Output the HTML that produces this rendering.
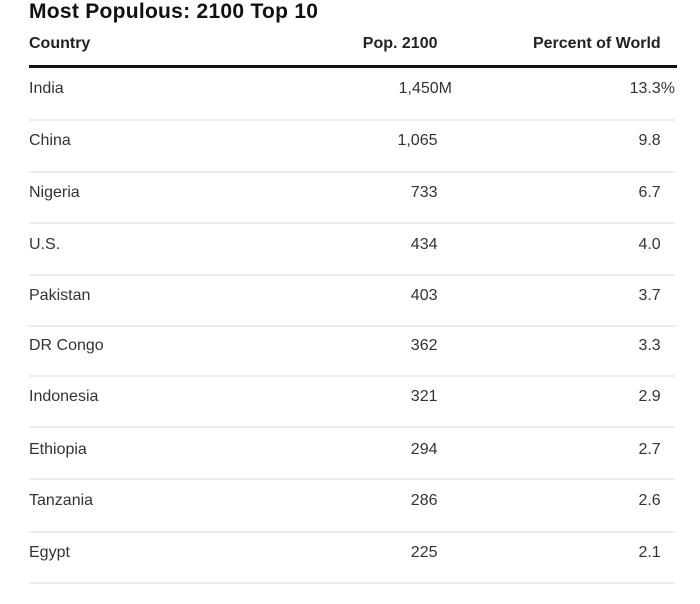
<!DOCTYPE html>
<html>
<head>
<meta charset="utf-8">
<style>
  html,body{margin:0;padding:0;background:#fff;}
  body{width:700px;height:604px;position:relative;overflow:hidden;font-family:"Liberation Sans",Arial,sans-serif;}
  .t{position:absolute;white-space:nowrap;}
  .title{left:29px;top:0.7px;font-size:21px;line-height:21px;font-weight:bold;color:#111;letter-spacing:0.28px;}
  .h{font-size:16px;line-height:16px;font-weight:bold;color:#222;top:36px;}
  .c{font-size:16px;line-height:16px;color:#333;}
  .sep{position:absolute;left:29px;width:646px;height:2px;background:#ececec;}
  .thick{position:absolute;left:29px;width:648px;top:65px;height:3px;background:#111;}
</style>
</head>
<body>
<div class="t title">Most Populous: 2100 Top 10</div>

<div class="t h" style="left:29px;">Country</div>
<div class="t h" style="right:262.5px;">Pop. 2100</div>
<div class="t h" style="right:39.3px;">Percent of World</div>
<div class="thick"></div>

<!-- India -->
<div class="t c" style="left:29px;top:81px;">India</div>
<div class="t c" style="right:248px;top:81px;">1,450M</div>
<div class="t c" style="right:25px;top:81px;">13.3%</div>
<div class="sep" style="top:118.5px;"></div>

<!-- China -->
<div class="t c" style="left:29px;top:133.2px;">China</div>
<div class="t c" style="right:262.5px;top:133.2px;">1,065</div>
<div class="t c" style="right:39.3px;top:133.2px;">9.8</div>
<div class="sep" style="top:170.5px;"></div>

<!-- Nigeria -->
<div class="t c" style="left:29px;top:184.8px;">Nigeria</div>
<div class="t c" style="right:262.5px;top:184.8px;">733</div>
<div class="t c" style="right:39.3px;top:184.8px;">6.7</div>
<div class="sep" style="top:222px;"></div>

<!-- U.S. -->
<div class="t c" style="left:29px;top:236.5px;">U.S.</div>
<div class="t c" style="right:262.5px;top:236.5px;">434</div>
<div class="t c" style="right:39.3px;top:236.5px;">4.0</div>
<div class="sep" style="top:274px;"></div>

<!-- Pakistan -->
<div class="t c" style="left:29px;top:288.2px;">Pakistan</div>
<div class="t c" style="right:262.5px;top:288.2px;">403</div>
<div class="t c" style="right:39.3px;top:288.2px;">3.7</div>
<div class="sep" style="top:325px;"></div>

<!-- DR Congo -->
<div class="t c" style="left:29px;top:338.2px;">DR Congo</div>
<div class="t c" style="right:262.5px;top:338.2px;">362</div>
<div class="t c" style="right:39.3px;top:338.2px;">3.3</div>
<div class="sep" style="top:375px;"></div>

<!-- Indonesia -->
<div class="t c" style="left:29px;top:389.2px;">Indonesia</div>
<div class="t c" style="right:262.5px;top:389.2px;">321</div>
<div class="t c" style="right:39.3px;top:389.2px;">2.9</div>
<div class="sep" style="top:426px;"></div>

<!-- Ethiopia -->
<div class="t c" style="left:29px;top:441.5px;">Ethiopia</div>
<div class="t c" style="right:262.5px;top:441.5px;">294</div>
<div class="t c" style="right:39.3px;top:441.5px;">2.7</div>
<div class="sep" style="top:478px;"></div>

<!-- Tanzania -->
<div class="t c" style="left:29px;top:493.2px;">Tanzania</div>
<div class="t c" style="right:262.5px;top:493.2px;">286</div>
<div class="t c" style="right:39.3px;top:493.2px;">2.6</div>
<div class="sep" style="top:530.5px;"></div>

<!-- Egypt -->
<div class="t c" style="left:29px;top:544.5px;">Egypt</div>
<div class="t c" style="right:262.5px;top:544.5px;">225</div>
<div class="t c" style="right:39.3px;top:544.5px;">2.1</div>
<div class="sep" style="top:582px;"></div>
</body>
</html>
